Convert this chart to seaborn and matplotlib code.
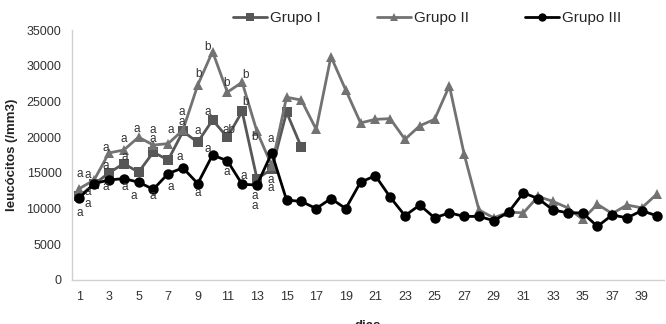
import matplotlib
matplotlib.use("Agg")
import matplotlib.pyplot as plt
import seaborn as sns
import pandas as pd
import numpy as np

# leukocyte counts per day (/mm3)
dias_g1 = list(range(1, 17))
grupo_i = [11700, 13400, 15000, 16300, 15100, 17900, 16800, 20800, 19300, 22400,
           20000, 23600, 14200, 15500, 23500, 18600]

dias_g2 = list(range(1, 41))
grupo_ii = [12800, 14000, 17800, 18200, 20000, 18900, 19100, 21000, 27300, 32000,
            26300, 27700, 20800, 16000, 25600, 25200, 21100, 31300, 26600, 22000,
            22500, 22600, 19700, 21600, 22500, 27200, 17600, 9800, 8700, 9500,
            9400, 11700, 11000, 10100, 8500, 10600, 9300, 10500, 10100, 12000]

dias_g3 = list(range(1, 41))
grupo_iii = [11500, 13500, 14000, 14200, 13700, 12700, 14900, 15700, 13500, 17500,
             16700, 13400, 13300, 17800, 11200, 11000, 10000, 11400, 10000, 13700,
             14600, 11600, 9000, 10500, 8700, 9400, 8900, 8900, 8300, 9500,
             12200, 11400, 9800, 9400, 9400, 7500, 9100, 8700, 9700, 9000]

# significance letters (day position, value position, text)
letras_x = [1.0, 1.6, 1.54, 1.54, 1.0, 2.81, 2.81, 2.81, 4.02, 4.09, 4.09, 4.89,
            4.69, 5.97, 5.97, 5.97, 7.17, 7.78, 7.17, 7.91, 7.91, 9.05, 8.99, 8.99,
            9.66, 9.66, 9.66, 10.93, 11.13, 10.93, 12.21, 12.21, 12.14, 12.81,
            12.88, 12.88, 13.95, 13.95, 13.95]
letras_y = [14840, 14700, 12320, 10640, 9380, 18480, 15960, 13020, 19740, 17220,
            13020, 21140, 11760, 21000, 19740, 11760, 21000, 17220, 13020, 23520,
            22120, 28840, 20860, 12180, 32620, 23520, 18340, 27580, 21000, 15120,
            28700, 24920, 14560, 20020, 11760, 10360, 19740, 14000, 12880]
letras_t = ["a", "a", "a", "a", "a", "a", "a", "a", "a", "a", "a", "a",
            "a", "a", "a", "a", "a", "a", "a", "a", "a", "b", "a", "a",
            "b", "a", "a", "b", "ab", "a", "b", "b", "a", "b",
            "a", "a", "a", "a", "a"]

df = pd.concat([
    pd.DataFrame({"dia": dias_g1, "leuc": grupo_i, "grupo": "Grupo I"}),
    pd.DataFrame({"dia": dias_g2, "leuc": grupo_ii, "grupo": "Grupo II"}),
    pd.DataFrame({"dia": dias_g3, "leuc": grupo_iii, "grupo": "Grupo III"}),
])

sns.set_style("white")
plt.rcParams["font.family"] = ["Liberation Sans", "DejaVu Sans"]

fig = plt.figure(figsize=(6.66, 3.24), dpi=100)
ax = fig.add_axes([0.108, 0.136, 0.889, 0.771])

cores = {"Grupo I": "#575757", "Grupo II": "#727272", "Grupo III": "#000000"}
marcadores = {"Grupo I": "s", "Grupo II": "^", "Grupo III": "o"}
sns.lineplot(data=df, x="dia", y="leuc", hue="grupo", style="grupo",
             palette=cores, markers=marcadores, dashes=False, linewidth=2,
             markersize=7.5, markeredgewidth=0, ax=ax)

for x, y, t in zip(letras_x, letras_y, letras_t):
    ax.text(x, y, t, fontsize=8.5, color="#333333", ha="center", va="center")

ax.set_xlim(0.5, 40.5)
ax.set_ylim(0, 35000)
ax.set_yticks(range(0, 35001, 5000))
ax.set_xticks(range(1, 41, 2))
ax.set_xticks(np.arange(0.5, 41, 1), minor=True)
ax.tick_params(axis="x", which="major", length=0, labelsize=9, colors="#333333", pad=8)
ax.tick_params(axis="x", which="minor", length=4, color="#cccccc")
ax.tick_params(axis="y", length=4, color="#cccccc", labelsize=9, labelcolor="#333333")
for s in ["top", "right"]:
    ax.spines[s].set_visible(False)
for s in ["left", "bottom"]:
    ax.spines[s].set_color("#d0d0d0")
    ax.spines[s].set_linewidth(1)

ax.set_ylabel("leucócitos (/mm3)", fontsize=9.5, fontweight="bold", color="#222222", labelpad=6)
ax.set_xlabel("dias", fontsize=9.5, fontweight="bold", color="#222222", labelpad=12)

leg = ax.legend(loc="center", bbox_to_anchor=(0.6, 1.048), ncol=3, frameon=False,
                fontsize=11, handlelength=2.2, handletextpad=0.2, columnspacing=3.7,
                borderaxespad=0)
for h in leg.legend_handles:
    h.set_markersize(6)

fig.savefig("out.png", dpi=100)
